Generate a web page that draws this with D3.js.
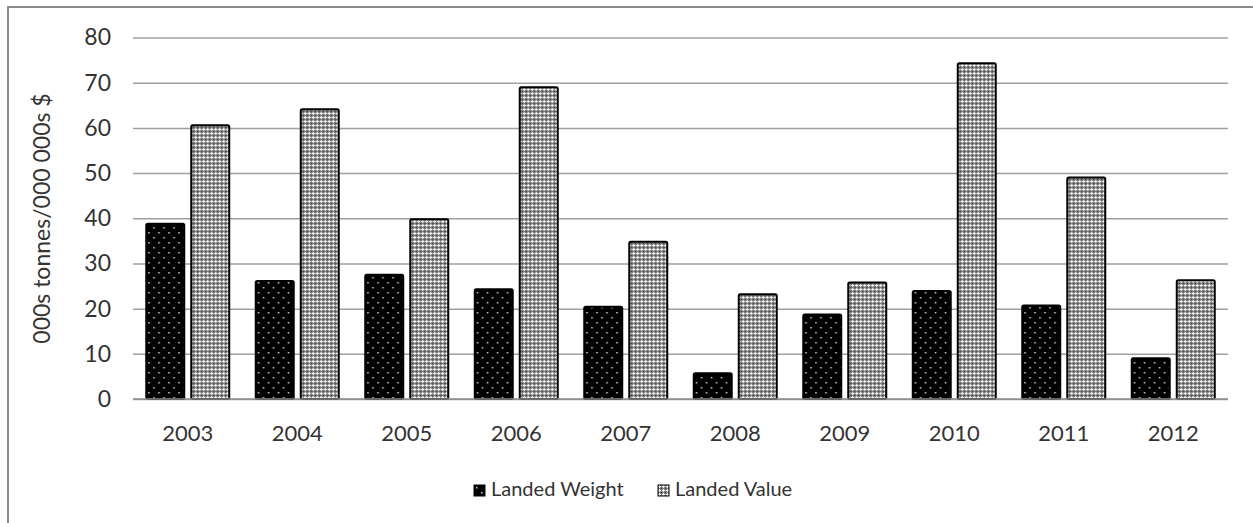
<!DOCTYPE html>
<html>
<head>
<meta charset="utf-8">
<script src="https://cdn.jsdelivr.net/npm/d3@7"></script>
<style>
  html, body { margin: 0; padding: 0; background: #fff; }
  svg { display: block; }
  text { font-family: Lato, "Open Sans", sans-serif; fill: #333; }
</style>
</head>
<body>
<svg id="chart" width="1253" height="523"></svg>
<script>
// Landed catch by year
const years = ["2003", "2004", "2005", "2006", "2007", "2008", "2009", "2010", "2011", "2012"];
const landedWeight = [38.8, 26.1, 27.5, 24.3, 20.4, 5.7, 18.7, 23.9, 20.7, 9.0];
const landedValue = [60.6, 64.1, 39.8, 69.0, 34.8, 23.2, 25.8, 74.3, 49.0, 26.3];
const seriesNames = ["Landed Weight", "Landed Value"];
const yTicks = [0, 10, 20, 30, 40, 50, 60, 70, 80];

const W = 1253, H = 523;
const plot = { left: 133, right: 1228, top: 37.5, bottom: 399 };

const svg = d3.select("#chart");
const defs = svg.append("defs");

// Black fill with staggered white dots
const pDots = defs.append("pattern")
  .attr("id", "pat-weight").attr("patternUnits", "userSpaceOnUse")
  .attr("width", 10).attr("height", 10);
pDots.append("rect").attr("width", 10).attr("height", 10).attr("fill", "#000");
pDots.append("rect").attr("x", 2).attr("y", 2).attr("width", 1.5).attr("height", 1.5).attr("fill", "#d0d0d0");
pDots.append("rect").attr("x", 7).attr("y", 7).attr("width", 1.5).attr("height", 1.5).attr("fill", "#d0d0d0");

// Grey fill with small white crosses
const pCross = defs.append("pattern")
  .attr("id", "pat-value").attr("patternUnits", "userSpaceOnUse")
  .attr("width", 4).attr("height", 4);
pCross.append("rect").attr("width", 4).attr("height", 4).attr("fill", "#7c7c7c");
pCross.append("rect").attr("x", 1).attr("y", 0).attr("width", 1).attr("height", 3).attr("fill", "#f4f4f4");
pCross.append("rect").attr("x", 0).attr("y", 1).attr("width", 3).attr("height", 1).attr("fill", "#f4f4f4");
pCross.append("rect").attr("x", 3).attr("y", 3).attr("width", 1).attr("height", 1).attr("fill", "#3a3a3a");

const fills = ["url(#pat-weight)", "url(#pat-value)"];

// Outer frame
svg.append("rect")
  .attr("x", 8).attr("y", 7).attr("width", W + 20).attr("height", H + 20)
  .attr("fill", "none").attr("stroke", "#8c8c8c").attr("stroke-width", 2);

const x0 = d3.scaleBand().domain(years).range([plot.left, plot.right]).paddingInner(0.242).paddingOuter(0.121);
const x1 = d3.scaleBand().domain(seriesNames).range([0, x0.bandwidth()]).paddingInner(0.156);
const y = d3.scaleLinear().domain([0, 80]).range([plot.bottom, plot.top]);

// Horizontal gridlines and y tick labels
const yAxis = d3.axisLeft(y).tickValues(yTicks).tickSize(-(plot.right - plot.left)).tickPadding(22);
const gy = svg.append("g").attr("transform", `translate(${plot.left},0)`).call(yAxis);
gy.select(".domain").remove();
gy.selectAll(".tick line").attr("stroke", "#a0a0a0").attr("stroke-width", 1.5);
gy.selectAll(".tick text")
  .style("font-family", "Lato, sans-serif").style("font-size", "23px").attr("fill", "#333");

// Category labels
const xAxis = d3.axisBottom(x0).tickSize(0).tickPadding(26);
const gx = svg.append("g").attr("transform", `translate(0,${plot.bottom})`).call(xAxis);
gx.select(".domain").remove();
gx.selectAll(".tick text")
  .style("font-family", "Lato, sans-serif").style("font-size", "22px").attr("fill", "#333");

// Bars
const rows = years.map((yr, i) => ({ year: yr, values: [landedWeight[i], landedValue[i]] }));
const groups = svg.append("g").selectAll("g").data(rows).join("g")
  .attr("transform", d => `translate(${x0(d.year)},0)`);
groups.selectAll("rect")
  .data(d => d.values.map((v, k) => ({ key: seriesNames[k], k, v })))
  .join("rect")
  .attr("x", d => x1(d.key))
  .attr("y", d => y(d.v))
  .attr("width", x1.bandwidth())
  .attr("height", d => y(0) - y(d.v))
  .attr("rx", 1.5)
  .attr("fill", d => fills[d.k])
  .attr("stroke", "#000")
  .attr("stroke-width", 2);

// Baseline
svg.append("line")
  .attr("x1", plot.left).attr("x2", plot.right)
  .attr("y1", y(0)).attr("y2", y(0))
  .attr("stroke", "#8c8c8c").attr("stroke-width", 1.5);

// Y axis title
svg.append("text")
  .attr("transform", `translate(50,${(92 + 345) / 2}) rotate(-90)`)
  .attr("text-anchor", "middle")
  .style("font-size", "23px")
  .text("000s tonnes/000 000s $");

// Legend
const legendItems = [
  { name: seriesNames[0], fill: fills[0], x: 474 },
  { name: seriesNames[1], fill: fills[1], x: 658 }
];
const lg = svg.append("g").selectAll("g").data(legendItems).join("g")
  .attr("transform", d => `translate(${d.x},485)`);
lg.append("rect").attr("width", 11).attr("height", 11)
  .attr("fill", d => d.fill).attr("stroke", "#000").attr("stroke-width", 1);
lg.append("text").attr("x", 17).attr("y", 11)
  .style("font-size", "20px")
  .text(d => d.name);
</script>
</body>
</html>
